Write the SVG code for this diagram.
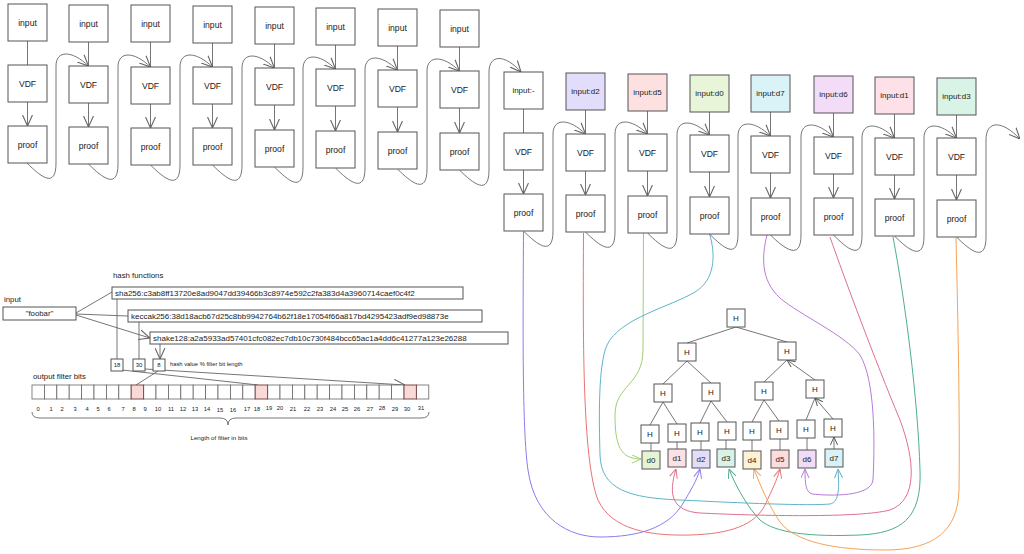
<svg xmlns="http://www.w3.org/2000/svg" width="1024" height="554" viewBox="0 0 1024 554">
<style>
.b{fill:#fff;stroke:#555;stroke-width:1}
.t{font-family:"Liberation Sans",Arial,sans-serif;font-size:8.6px;fill:#222;text-anchor:middle;dominant-baseline:central}
.s{font-family:"Liberation Sans",Arial,sans-serif;fill:#222}
.e{fill:none;stroke:#666;stroke-width:0.9}
.ea{fill:none;stroke:#666;stroke-width:0.9;marker-end:url(#ag)}
.et{fill:none;stroke:#666;stroke-width:0.9;marker-end:url(#as)}
.c{fill:none;stroke-width:1}
.cell{fill:#fff;stroke:#666;stroke-width:0.8}
.hl{fill:#f9d8d8;stroke:#7a4a4a;stroke-width:1}
</style>
<defs>
<marker id="ag" viewBox="0 0 10 10" refX="10" refY="5" markerWidth="11" markerHeight="11" markerUnits="userSpaceOnUse" orient="auto"><path d="M0,0.5 L10,5 L0,9.5" fill="none" stroke="#666" stroke-width="1"/></marker>
<marker id="as" viewBox="0 0 10 10" refX="10" refY="5" markerWidth="8" markerHeight="8" markerUnits="userSpaceOnUse" orient="auto"><path d="M0,0.5 L10,5 L0,9.5" fill="none" stroke="#555" stroke-width="1.2"/></marker>
<marker id="mv" viewBox="0 0 10 10" refX="10" refY="5" markerWidth="9" markerHeight="9" markerUnits="userSpaceOnUse" orient="auto"><path d="M0,0.5 L10,5 L0,9.5" fill="none" stroke="#8b7cf0" stroke-width="1.1"/></marker>
<marker id="mr" viewBox="0 0 10 10" refX="10" refY="5" markerWidth="9" markerHeight="9" markerUnits="userSpaceOnUse" orient="auto"><path d="M0,0.5 L10,5 L0,9.5" fill="none" stroke="#ea7474" stroke-width="1.1"/></marker>
<marker id="mg" viewBox="0 0 10 10" refX="10" refY="5" markerWidth="9" markerHeight="9" markerUnits="userSpaceOnUse" orient="auto"><path d="M0,0.5 L10,5 L0,9.5" fill="none" stroke="#9fcf6e" stroke-width="1.1"/></marker>
<marker id="mc" viewBox="0 0 10 10" refX="10" refY="5" markerWidth="9" markerHeight="9" markerUnits="userSpaceOnUse" orient="auto"><path d="M0,0.5 L10,5 L0,9.5" fill="none" stroke="#5fb4c9" stroke-width="1.1"/></marker>
<marker id="mp" viewBox="0 0 10 10" refX="10" refY="5" markerWidth="9" markerHeight="9" markerUnits="userSpaceOnUse" orient="auto"><path d="M0,0.5 L10,5 L0,9.5" fill="none" stroke="#b77bd8" stroke-width="1.1"/></marker>
<marker id="mk" viewBox="0 0 10 10" refX="10" refY="5" markerWidth="9" markerHeight="9" markerUnits="userSpaceOnUse" orient="auto"><path d="M0,0.5 L10,5 L0,9.5" fill="none" stroke="#e0708c" stroke-width="1.1"/></marker>
<marker id="mt" viewBox="0 0 10 10" refX="10" refY="5" markerWidth="9" markerHeight="9" markerUnits="userSpaceOnUse" orient="auto"><path d="M0,0.5 L10,5 L0,9.5" fill="none" stroke="#4fae8c" stroke-width="1.1"/></marker>
<marker id="mo" viewBox="0 0 10 10" refX="10" refY="5" markerWidth="9" markerHeight="9" markerUnits="userSpaceOnUse" orient="auto"><path d="M0,0.5 L10,5 L0,9.5" fill="none" stroke="#f5a35a" stroke-width="1.1"/></marker>
</defs>
<rect width="1024" height="554" fill="#fff"/>

<!-- connectors -->
<g id="connectors">
<path class="ea" d="M27.5 41V65M27.5 102V126"/>
<path class="ea" d="M88.5 42V66M88.5 103V127"/>
<path class="ea" d="M150.5 42V67M150.5 104V128"/>
<path class="ea" d="M212.5 43V67M212.5 104V128"/>
<path class="ea" d="M274.5 44V68M274.5 105V130"/>
<path class="ea" d="M335.5 45V69M335.5 106V131"/>
<path class="ea" d="M397.5 46V70M397.5 107V132"/>
<path class="ea" d="M459.5 47V71M459.5 108V133"/>
<path class="ea" d="M523.5 109V133M523.5 170V194"/>
<path class="ea" d="M585.5 110V134M585.5 171V195"/>
<path class="ea" d="M647.5 111V134M647.5 171V196"/>
<path class="ea" d="M709.5 112V135M709.5 172V197"/>
<path class="ea" d="M770.5 112V136M770.5 173V198"/>
<path class="ea" d="M833.5 113V137M833.5 174V198"/>
<path class="ea" d="M894.5 114V138M894.5 175V199"/>
<path class="ea" d="M956.5 115V138M956.5 175V200"/>
<path class="ea" d="M27 163C41 177 56 189 56 163L56 66C56 50 72 50 88.5 66"/>
<path class="ea" d="M88.5 164C102.5 178 118 190 118 164L118 67C118 51 134 51 150.5 67"/>
<path class="ea" d="M150.5 165C164.5 179 180 191 180 165L180 67C180 51 196 51 212.5 67"/>
<path class="ea" d="M212.5 165C226.5 179 242 191 242 165L242 68C242 52 258 52 274.5 68"/>
<path class="ea" d="M274.5 167C288.5 181 303 193 303 167L303 69C303 53 319 53 335.5 69"/>
<path class="ea" d="M335.5 168C349.5 182 365 194 365 168L365 70C365 54 381 54 397.5 70"/>
<path class="ea" d="M397.5 169C411.5 183 427 195 427 169L427 71C427 55 443 55 459.5 71"/>
<path class="ea" d="M459.5 170C473.5 184 489 196 489 170L489 72C489 54 505 54 521 72"/>
<path class="ea" d="M523.5 231C537.5 245 553 257 553 231L553 134C553 118 569 118 585.5 134"/>
<path class="ea" d="M585.5 232C599.5 246 615 258 615 232L615 134C615 118 631 118 647.5 134"/>
<path class="ea" d="M647.5 233C661.5 247 677 259 677 233L677 135C677 119 693 119 709.5 135"/>
<path class="ea" d="M709.5 234C723.5 248 738 260 738 234L738 136C738 120 754 120 770.5 136"/>
<path class="ea" d="M770.5 235C784.5 249 801 261 801 235L801 137C801 121 817 121 833.5 137"/>
<path class="ea" d="M833.5 235C847.5 249 862 261 862 235L862 138C862 122 878 122 894.5 138"/>
<path class="ea" d="M894.5 236C908.5 250 924 262 924 236L924 138C924 122 940 122 956.5 138"/>
<path class="ea" d="M956.5 237C970.5 251 986 263 986 237L986 140C986 120 1002 120 1020 139"/>
<path class="c" stroke="#8b7cf0" marker-end="url(#mv)" d="M523.5 232C523 320 522 430 528 470C535 520 570 537 600 537C640 537 668 527 682 505C691 490 697 480 700 469"/>
<path class="c" stroke="#ea7474" marker-end="url(#mr)" d="M583.5 233C583 330 582 460 598 500C612 530 650 536 690 535C730 534 755 525 765 505C772 490 777 480 780 469"/>
<path class="c" stroke="#9fcf6e" marker-end="url(#mg)" d="M643.5 233L643 350C643 385 615 385 615 415C615 445 620 459 641 459"/>
<path class="c" stroke="#5fb4c9" marker-end="url(#mc)" d="M709.5 234C716 255 715 280 695 292C670 307 620 318 607 345C598 365 599 420 600 455C601 490 630 498 680 500C740 503 810 506 830 504C840 502 839 485 838 469"/>
<path class="c" stroke="#b77bd8" marker-end="url(#mp)" d="M767 235C762 255 760 280 780 298C800 315 845 335 860 355C875 380 875 440 873 480C871 497 830 496 812 494C806 492 805 485 805 469"/>
<path class="c" stroke="#e0708c" marker-end="url(#mk)" d="M830 237C845 280 875 360 900 420C915 460 918 500 890 510C860 518 760 516 700 513C672 511 668 495 676 469"/>
<path class="c" stroke="#4fae8c" marker-end="url(#mt)" d="M893 237C905 300 918 400 920 470C922 520 900 533 860 535C810 537 775 533 760 520C748 508 735 485 729 469"/>
<path class="c" stroke="#f5a35a" marker-end="url(#mo)" d="M956 238C958 320 960 420 959 490C958 530 935 550 885 550C835 550 795 542 780 522C770 508 760 485 754 469"/>
<path class="et" d="M687 343L736 327M787 342L736 327M663 384L687 361M711 383L687 361M764 382L787 360M815 380L787 360"/>
<path class="et" d="M650 425L663 402M677 424L663 402M700 423L711 401M727 422L711 401M752 422L764 400M779 421L764 400M806 420L815 398M833 419L815 398"/>
<path class="et" d="M651 451V443M677 449V442M701 450V441M726 449V440M752 451V440M780 450V439M807 450V438M834 449V437"/>
<path class="ea" d="M76 313L112 292M76 314L128 316M76 315L150 338"/>
<path class="ea" d="M117 299V359M139 322V359M160 344V359"/>
<path class="ea" d="M158 371L136 385M122 370L258 385M145 369L405 385"/>
</g>

<g id="col1"><rect class="b" x="8" y="4" width="39" height="37"/><text class="t" x="27.5" y="22.5">input</text><rect class="b" x="8" y="65" width="39" height="37"/><text class="t" x="27.5" y="83.5">VDF</text><rect class="b" x="8" y="126" width="39" height="37"/><text class="t" x="27.5" y="144.5">proof</text></g>
<g id="col2"><rect class="b" x="69" y="5" width="39" height="37"/><text class="t" x="88.5" y="23.5">input</text><rect class="b" x="69" y="66" width="39" height="37"/><text class="t" x="88.5" y="84.5">VDF</text><rect class="b" x="69" y="127" width="39" height="37"/><text class="t" x="88.5" y="145.5">proof</text></g>
<g id="col3"><rect class="b" x="131" y="5" width="39" height="37"/><text class="t" x="150.5" y="23.5">input</text><rect class="b" x="131" y="67" width="39" height="37"/><text class="t" x="150.5" y="85.5">VDF</text><rect class="b" x="131" y="128" width="39" height="37"/><text class="t" x="150.5" y="146.5">proof</text></g>
<g id="col4"><rect class="b" x="193" y="6" width="39" height="37"/><text class="t" x="212.5" y="24.5">input</text><rect class="b" x="193" y="67" width="39" height="37"/><text class="t" x="212.5" y="85.5">VDF</text><rect class="b" x="193" y="128" width="39" height="37"/><text class="t" x="212.5" y="146.5">proof</text></g>
<g id="col5"><rect class="b" x="255" y="7" width="39" height="37"/><text class="t" x="274.5" y="25.5">input</text><rect class="b" x="255" y="68" width="39" height="37"/><text class="t" x="274.5" y="86.5">VDF</text><rect class="b" x="255" y="130" width="39" height="37"/><text class="t" x="274.5" y="148.5">proof</text></g>
<g id="col6"><rect class="b" x="316" y="8" width="39" height="37"/><text class="t" x="335.5" y="26.5">input</text><rect class="b" x="316" y="69" width="39" height="37"/><text class="t" x="335.5" y="87.5">VDF</text><rect class="b" x="316" y="131" width="39" height="37"/><text class="t" x="335.5" y="149.5">proof</text></g>
<g id="col7"><rect class="b" x="378" y="9" width="39" height="37"/><text class="t" x="397.5" y="27.5">input</text><rect class="b" x="378" y="70" width="39" height="37"/><text class="t" x="397.5" y="88.5">VDF</text><rect class="b" x="378" y="132" width="39" height="37"/><text class="t" x="397.5" y="150.5">proof</text></g>
<g id="col8"><rect class="b" x="440" y="10" width="39" height="37"/><text class="t" x="459.5" y="28.5">input</text><rect class="b" x="440" y="71" width="39" height="37"/><text class="t" x="459.5" y="89.5">VDF</text><rect class="b" x="440" y="133" width="39" height="37"/><text class="t" x="459.5" y="151.5">proof</text></g>
<g id="col9"><rect class="b" x="504" y="72" width="39" height="37"/><text class="t" x="523.5" y="90.5" style="font-size:8px">input:-</text><rect class="b" x="504" y="133" width="39" height="37"/><text class="t" x="523.5" y="151.5">VDF</text><rect class="b" x="504" y="194" width="39" height="37"/><text class="t" x="523.5" y="212.5">proof</text></g>
<g id="col10"><rect class="b" x="566" y="73" width="39" height="37" style="fill:#e1ddfa"/><text class="t" x="585.5" y="91.5" style="font-size:8px">input:d2</text><rect class="b" x="566" y="134" width="39" height="37"/><text class="t" x="585.5" y="152.5">VDF</text><rect class="b" x="566" y="195" width="39" height="37"/><text class="t" x="585.5" y="213.5">proof</text></g>
<g id="col11"><rect class="b" x="628" y="74" width="39" height="37" style="fill:#fde0e0"/><text class="t" x="647.5" y="92.5" style="font-size:8px">input:d5</text><rect class="b" x="628" y="134" width="39" height="37"/><text class="t" x="647.5" y="152.5">VDF</text><rect class="b" x="628" y="196" width="39" height="37"/><text class="t" x="647.5" y="214.5">proof</text></g>
<g id="col12"><rect class="b" x="690" y="75" width="39" height="37" style="fill:#e8f5d9"/><text class="t" x="709.5" y="93.5" style="font-size:8px">input:d0</text><rect class="b" x="690" y="135" width="39" height="37"/><text class="t" x="709.5" y="153.5">VDF</text><rect class="b" x="690" y="197" width="39" height="37"/><text class="t" x="709.5" y="215.5">proof</text></g>
<g id="col13"><rect class="b" x="751" y="75" width="39" height="37" style="fill:#d9f3f7"/><text class="t" x="770.5" y="93.5" style="font-size:8px">input:d7</text><rect class="b" x="751" y="136" width="39" height="37"/><text class="t" x="770.5" y="154.5">VDF</text><rect class="b" x="751" y="198" width="39" height="37"/><text class="t" x="770.5" y="216.5">proof</text></g>
<g id="col14"><rect class="b" x="814" y="76" width="39" height="37" style="fill:#f3dcf8"/><text class="t" x="833.5" y="94.5" style="font-size:8px">input:d6</text><rect class="b" x="814" y="137" width="39" height="37"/><text class="t" x="833.5" y="155.5">VDF</text><rect class="b" x="814" y="198" width="39" height="37"/><text class="t" x="833.5" y="216.5">proof</text></g>
<g id="col15"><rect class="b" x="875" y="77" width="39" height="37" style="fill:#fde0e8"/><text class="t" x="894.5" y="95.5" style="font-size:8px">input:d1</text><rect class="b" x="875" y="138" width="39" height="37"/><text class="t" x="894.5" y="156.5">VDF</text><rect class="b" x="875" y="199" width="39" height="37"/><text class="t" x="894.5" y="217.5">proof</text></g>
<g id="col16"><rect class="b" x="937" y="78" width="39" height="37" style="fill:#d9f3e6"/><text class="t" x="956.5" y="96.5" style="font-size:8px">input:d3</text><rect class="b" x="937" y="138" width="39" height="37"/><text class="t" x="956.5" y="156.5">VDF</text><rect class="b" x="937" y="200" width="39" height="37"/><text class="t" x="956.5" y="218.5">proof</text></g>

<g id="tree" class="t" style="font-size:8px">
<g id="h-root"><rect class="b" x="727" y="309" width="18" height="18"/><text x="736" y="318">H</text></g>
<g id="h-l2a"><rect class="b" x="678" y="343" width="18" height="18"/><text x="687" y="352">H</text></g>
<g id="h-l2b"><rect class="b" x="778" y="342" width="18" height="18"/><text x="787" y="351">H</text></g>
<g id="h-l3a"><rect class="b" x="654" y="384" width="18" height="18"/><text x="663" y="393">H</text></g>
<g id="h-l3b"><rect class="b" x="702" y="383" width="18" height="18"/><text x="711" y="392">H</text></g>
<g id="h-l3c"><rect class="b" x="755" y="382" width="18" height="18"/><text x="764" y="391">H</text></g>
<g id="h-l3d"><rect class="b" x="806" y="380" width="18" height="18"/><text x="815" y="389">H</text></g>
<g id="h-l4"><rect class="b" x="641" y="425" width="18" height="18"/><text x="650" y="434">H</text>
<rect class="b" x="668" y="424" width="18" height="18"/><text x="677" y="433">H</text>
<rect class="b" x="691" y="423" width="18" height="18"/><text x="700" y="432">H</text>
<rect class="b" x="718" y="422" width="18" height="18"/><text x="727" y="431">H</text>
<rect class="b" x="743" y="422" width="18" height="18"/><text x="752" y="431">H</text>
<rect class="b" x="770" y="421" width="18" height="18"/><text x="779" y="430">H</text>
<rect class="b" x="797" y="420" width="18" height="18"/><text x="806" y="429">H</text>
<rect class="b" x="824" y="419" width="18" height="18"/><text x="833" y="428">H</text></g>
<g id="d0"><rect class="b" x="642" y="451" width="18" height="18" style="fill:#e6f4d6"/><text x="651" y="460">d0</text></g>
<g id="d1"><rect class="b" x="668" y="449" width="18" height="18" style="fill:#fbe0e6"/><text x="677" y="458">d1</text></g>
<g id="d2"><rect class="b" x="692" y="450" width="18" height="18" style="fill:#e2defa"/><text x="701" y="459">d2</text></g>
<g id="d3"><rect class="b" x="717" y="449" width="18" height="18" style="fill:#d8f2e8"/><text x="726" y="458">d3</text></g>
<g id="d4"><rect class="b" x="743" y="451" width="18" height="18" style="fill:#fdf1d6"/><text x="752" y="460">d4</text></g>
<g id="d5"><rect class="b" x="771" y="450" width="18" height="18" style="fill:#fcdcdc"/><text x="780" y="459">d5</text></g>
<g id="d6"><rect class="b" x="798" y="450" width="18" height="18" style="fill:#f0dcf6"/><text x="807" y="459">d6</text></g>
<g id="d7"><rect class="b" x="825" y="449" width="18" height="18" style="fill:#d8f2f6"/><text x="834" y="458">d7</text></g>
</g>

<g id="bloom-labels" class="s">
<text x="113" y="278" font-size="7.8">hash functions</text>
<text x="4" y="302" font-size="7.8">input</text>
<text x="33" y="379" font-size="7.8">output filter bits</text>
<text x="170" y="366" font-size="5.8">hash value % filter bit length</text>
<text x="219" y="440" font-size="6.2" text-anchor="middle">Length of filter in bits</text>
</g>
<g id="foobar"><rect class="b" x="3" y="307" width="73" height="13"/><text class="t" x="39.5" y="313.5" style="font-size:7.8px">"foobar"</text></g>
<g id="sha256"><rect class="b" x="112" y="287" width="351" height="12"/><text class="s" x="115" y="295.8" font-size="8">sha256:c3ab8ff13720e8ad9047dd39466b3c8974e592c2fa383d4a3960714caef0c4f2</text></g>
<g id="keccak256"><rect class="b" x="128" y="310" width="354" height="12"/><text class="s" x="131" y="318.8" font-size="8">keccak256:38d18acb67d25c8bb9942764b62f18e17054f66a817bd4295423adf9ed98873e</text></g>
<g id="shake128"><rect class="b" x="150" y="332" width="358" height="12"/><text class="s" x="153" y="340.8" font-size="8">shake128:a2a5933ad57401cfc082ec7db10c730f484bcc65ac1a4dd6c41277a123e26288</text></g>
<g id="v18"><rect class="b" x="111" y="359" width="12" height="12"/><text class="t" x="117" y="365" style="font-size:6px">18</text></g>
<g id="v30"><rect class="b" x="133" y="359" width="12" height="12"/><text class="t" x="139" y="365" style="font-size:6px">30</text></g>
<g id="v8"><rect class="b" x="153" y="359" width="12" height="12"/><text class="t" x="159" y="365" style="font-size:6px">8</text></g>
<g id="bits">
<rect class="cell" x="32" y="385" width="12.4" height="14"/><rect class="cell" x="44.4" y="385" width="12.4" height="14"/><rect class="cell" x="56.8" y="385" width="12.4" height="14"/><rect class="cell" x="69.2" y="385" width="12.4" height="14"/><rect class="cell" x="81.6" y="385" width="12.4" height="14"/><rect class="cell" x="94" y="385" width="12.4" height="14"/><rect class="cell" x="106.4" y="385" width="12.4" height="14"/><rect class="cell" x="118.8" y="385" width="12.4" height="14"/>
<rect class="cell" x="143.6" y="385" width="12.4" height="14"/><rect class="cell" x="156" y="385" width="12.4" height="14"/><rect class="cell" x="168.4" y="385" width="12.4" height="14"/><rect class="cell" x="180.8" y="385" width="12.4" height="14"/><rect class="cell" x="193.2" y="385" width="12.4" height="14"/><rect class="cell" x="205.6" y="385" width="12.4" height="14"/><rect class="cell" x="218" y="385" width="12.4" height="14"/><rect class="cell" x="230.4" y="385" width="12.4" height="14"/><rect class="cell" x="242.8" y="385" width="12.4" height="14"/>
<rect class="cell" x="267.6" y="385" width="12.4" height="14"/><rect class="cell" x="280" y="385" width="12.4" height="14"/><rect class="cell" x="292.4" y="385" width="12.4" height="14"/><rect class="cell" x="304.8" y="385" width="12.4" height="14"/><rect class="cell" x="317.2" y="385" width="12.4" height="14"/><rect class="cell" x="329.6" y="385" width="12.4" height="14"/><rect class="cell" x="342" y="385" width="12.4" height="14"/><rect class="cell" x="354.4" y="385" width="12.4" height="14"/><rect class="cell" x="366.8" y="385" width="12.4" height="14"/><rect class="cell" x="379.2" y="385" width="12.4" height="14"/><rect class="cell" x="391.6" y="385" width="12.4" height="14"/>
<rect class="cell" x="416.4" y="385" width="12.4" height="14"/>
<rect class="hl" x="131.2" y="385" width="12.4" height="14"/><rect class="hl" x="255.2" y="385" width="12.4" height="14"/><rect class="hl" x="404" y="385" width="12.4" height="14"/>
</g>
<g id="bit-labels" class="s" font-size="5.8" text-anchor="middle">
<text x="38" y="411">0</text><text x="51" y="411">1</text><text x="62" y="411">2</text><text x="75" y="411">3</text><text x="87" y="411">4</text><text x="98" y="411">5</text><text x="109" y="411">6</text><text x="123" y="411">7</text><text x="134" y="411">8</text><text x="145" y="411">9</text><text x="158" y="411">10</text><text x="171" y="411">11</text><text x="183" y="411">12</text><text x="195" y="411">13</text><text x="207" y="411">14</text><text x="220" y="412">15</text><text x="233" y="412">16</text><text x="247" y="411">17</text><text x="257" y="411">18</text><text x="269" y="410">19</text><text x="280" y="410">20</text><text x="293" y="411">21</text><text x="307" y="411">22</text><text x="320" y="411">23</text><text x="333" y="411">24</text><text x="345" y="411">25</text><text x="357" y="411">26</text><text x="370" y="411">27</text><text x="382" y="410">28</text><text x="395" y="411">29</text><text x="407" y="411">30</text><text x="421" y="410">31</text>
</g>
<path id="brace" class="e" d="M32 412Q32 418 40 418L220 418Q228 418 228 425Q228 418 236 418L421 418Q429 418 429 412"/>
</svg>
